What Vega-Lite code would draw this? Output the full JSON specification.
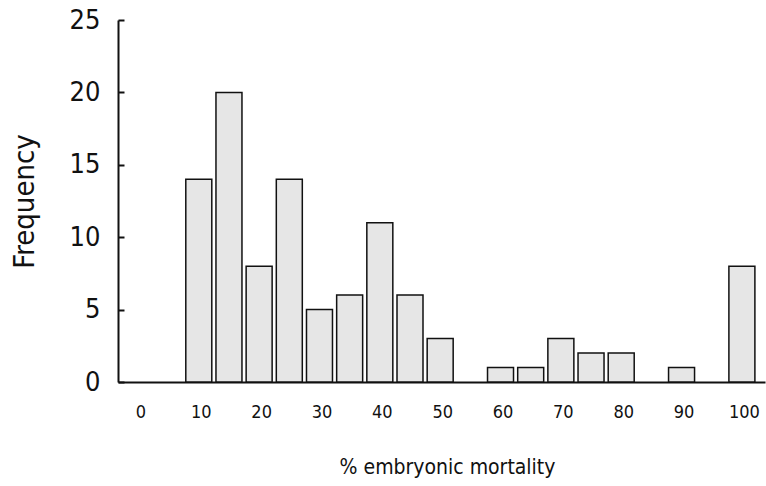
{
  "$schema": "https://vega.github.io/schema/vega-lite/v6.json",
  "width": 647,
  "height": 362,
  "autosize": "none",
  "padding": {"left": 118, "top": 20, "right": 1, "bottom": 104},
  "background": "white",
  "data": {"values": [
    {"mortality": 10, "frequency": 14},
    {"mortality": 15, "frequency": 20},
    {"mortality": 20, "frequency": 8},
    {"mortality": 25, "frequency": 14},
    {"mortality": 30, "frequency": 5},
    {"mortality": 35, "frequency": 6},
    {"mortality": 40, "frequency": 11},
    {"mortality": 45, "frequency": 6},
    {"mortality": 50, "frequency": 3},
    {"mortality": 60, "frequency": 1},
    {"mortality": 65, "frequency": 1},
    {"mortality": 70, "frequency": 3},
    {"mortality": 75, "frequency": 2},
    {"mortality": 80, "frequency": 2},
    {"mortality": 90, "frequency": 1},
    {"mortality": 100, "frequency": 8}
  ]},
  "config": {
    "view": {"stroke": null},
    "font": "'DejaVu Sans Condensed', Roboto, sans-serif"
  },
  "mark": {"type": "bar", "size": 26, "fill": "#e6e6e6", "stroke": "#111", "strokeWidth": 1.5},
  "encoding": {
    "x": {
      "field": "mortality", "type": "quantitative",
      "scale": {"domain": [-2.56, 103], "nice": false, "zero": false},
      "axis": {
        "values": [0, 10, 20, 30, 40, 50, 60, 70, 80, 90, 100],
        "grid": false, "ticks": false,
        "domainColor": "#111", "domainWidth": 2,
        "labelFont": "'DejaVu Sans Condensed', Roboto, sans-serif", "labelFontSize": 18, "labelColor": "#111",
        "labelPadding": 21, "labelOffset": 2,
        "title": "% embryonic mortality",
        "titleFont": "'DejaVu Sans Condensed', Roboto, sans-serif", "titleFontSize": 21, "titleFontWeight": "normal", "titleColor": "#111",
        "titlePadding": 35, "titleX": 329
      }
    },
    "y": {
      "field": "frequency", "type": "quantitative",
      "scale": {"domain": [0, 25], "nice": false},
      "axis": {
        "values": [0, 5, 10, 15, 20, 25],
        "grid": false,
        "tickSize": -6, "tickColor": "#111", "tickWidth": 2,
        "domainColor": "#111", "domainWidth": 2,
        "labelFont": "'DejaVu Sans Condensed', Roboto, sans-serif", "labelFontSize": 27, "labelColor": "#111",
        "labelPadding": 24,
        "title": "Frequency",
        "titleFont": "'DejaVu Sans Condensed', Roboto, sans-serif", "titleFontSize": 29, "titleFontWeight": "normal", "titleColor": "#111",
        "titlePadding": 30
      }
    }
  }
}
